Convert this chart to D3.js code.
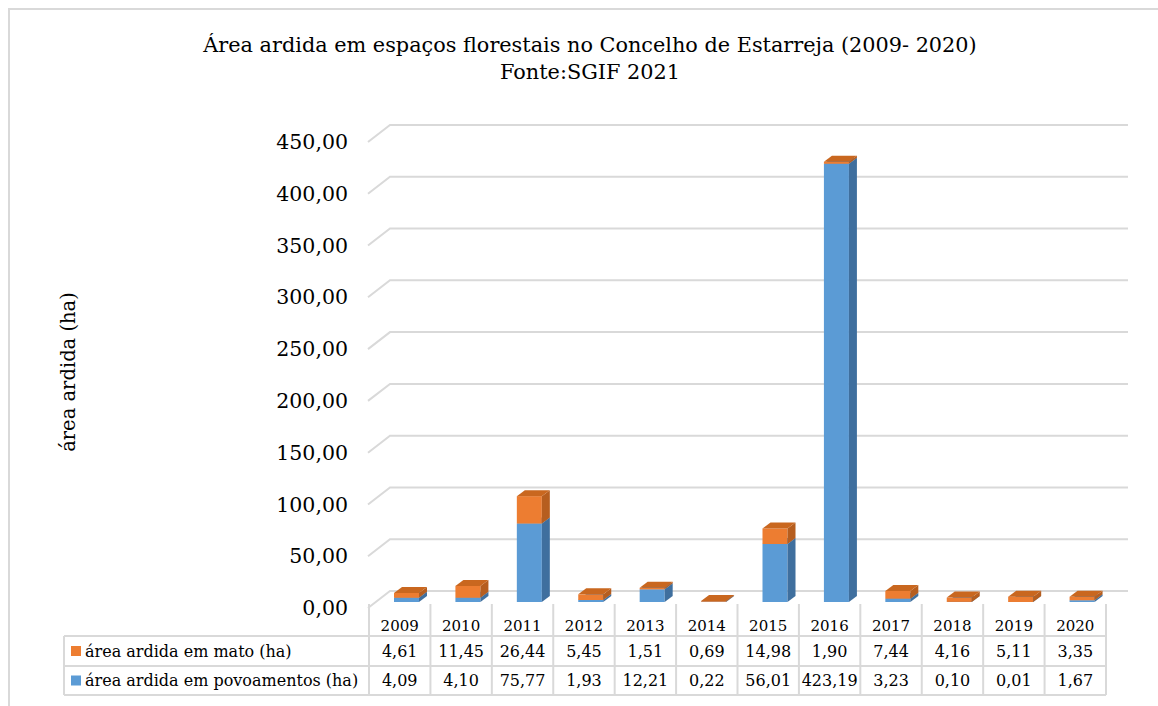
<!DOCTYPE html>
<html>
<head>
<meta charset="utf-8">
<script src="https://cdn.jsdelivr.net/npm/d3@7"></script>
<style>
  body { margin: 0; background: #fff; }
  text { font-family: "DejaVu Serif", "Liberation Serif", serif; fill: #000; }
</style>
</head>
<body>
<div id="container"></div>
<script>
// dados
var anos = ["2009","2010","2011","2012","2013","2014","2015","2016","2017","2018","2019","2020"];
var mato = [4.61, 11.45, 26.44, 5.45, 1.51, 0.69, 14.98, 1.90, 7.44, 4.16, 5.11, 3.35];
var povoamentos = [4.09, 4.10, 75.77, 1.93, 12.21, 0.22, 56.01, 423.19, 3.23, 0.10, 0.01, 1.67];
var nomesSeries = ["área ardida em mato (ha)", "área ardida em povoamentos (ha)"];
var titulo = ["Área ardida em espaços florestais no Concelho de Estarreja (2009- 2020)", "Fonte:SGIF 2021"];
var tituloEixo = "área ardida (ha)";

var w = 1158, h = 706;
var grid = "#d9d9d9";

var pt = d3.formatLocale({decimal: ",", thousands: ".", grouping: [3], currency: ["", "€"]});
var fmt = pt.format(".2f");

var svg = d3.select("#container").append("svg")
    .attr("width", w)
    .attr("height", h);

// moldura
svg.append("path")
    .attr("d", "M9," + h + "V9H" + w)
    .attr("fill", "none")
    .attr("stroke", grid)
    .attr("stroke-width", 2);

// titulo
svg.selectAll(".titulo")
    .data(titulo)
    .enter()
    .append("text")
    .attr("class", "titulo")
    .attr("x", 590)
    .attr("y", function(d, i) { return 52 + i * 27; })
    .attr("text-anchor", "middle")
    .style("font-size", "20.8px")
    .text(function(d) { return d; });

// escalas
var x = d3.scaleBand().domain(anos).range([369, 1106]).padding(0);
var yBack = d3.scaleLinear().domain([0, 450]).range([591, 125]);
var yFront = d3.scaleLinear().domain([0, 450]).range([602, 136]);
var yLabel = d3.scaleLinear().domain([0, 450]).range([608, 142]);

var depth = {dx: 8, dy: 6};
var barOff = 25, barW = 25;

// grelha
var ticks = yBack.ticks(9);
var gGrid = svg.append("g").attr("class", "grid");
gGrid.selectAll("path")
    .data(ticks)
    .enter()
    .append("path")
    .attr("d", function(d) {
        return "M368," + yLabel(d) + "L390," + yBack(d) + "H1128";
    })
    .attr("fill", "none")
    .attr("stroke", grid)
    .attr("stroke-width", 2);

// eixo y
var eixo = svg.append("g")
    .attr("transform", "translate(348,0)")
    .call(d3.axisLeft(yLabel).tickValues(ticks).tickSize(0).tickPadding(0).tickFormat(fmt));
eixo.select(".domain").remove();
eixo.selectAll("text")
    .style("font-family", "'DejaVu Serif', serif")
    .style("font-size", "20.5px")
    .attr("fill", "#000");

svg.append("text")
    .attr("transform", "translate(68,372) rotate(-90)")
    .attr("text-anchor", "middle")
    .attr("dy", "0.35em")
    .style("font-size", "19.5px")
    .text(tituloEixo);

// barras empilhadas 3D
var stackData = anos.map(function(a, i) {
    return {ano: a, povoamentos: povoamentos[i], mato: mato[i]};
});
var series = d3.stack().keys(["povoamentos", "mato"])(stackData);
var cores = {
    povoamentos: {front: "#5b9bd5", side: "#3f6f9e", top: "#4e87bd"},
    mato: {front: "#ed7d31", side: "#b65e1f", top: "#c9671f"}
};

var gBars = svg.append("g").attr("class", "bars");
anos.forEach(function(a, i) {
    series.forEach(function(s) {
        var seg = s[i];
        var c = cores[s.key];
        var x0 = x(a) + barOff, x1 = x0 + barW;
        var yb = yFront(seg[0]), yt = yFront(seg[1]);
        var g = gBars.append("g");
        g.append("rect")
            .attr("x", x0).attr("y", yt)
            .attr("width", barW).attr("height", Math.max(0, yb - yt))
            .attr("fill", c.front);
        g.append("path")
            .attr("d", "M" + x1 + "," + yt + "L" + (x1 + depth.dx) + "," + (yt - depth.dy) +
                "L" + (x1 + depth.dx) + "," + (yb - depth.dy) + "L" + x1 + "," + yb + "Z")
            .attr("fill", c.side);
        g.append("path")
            .attr("d", "M" + x0 + "," + yt + "L" + x1 + "," + yt + "L" + (x1 + depth.dx) + "," + (yt - depth.dy) +
                "L" + (x0 + depth.dx) + "," + (yt - depth.dy) + "Z")
            .attr("fill", c.top);
    });
});

// tabela de dados
var tLeft = 64, tRight = 1106;
var rows = [636, 666, 695];
var gTab = svg.append("g").attr("class", "tabela")
    .attr("stroke", grid).attr("stroke-width", 2).attr("fill", "none");
rows.forEach(function(r) {
    gTab.append("line").attr("x1", tLeft).attr("x2", tRight).attr("y1", r).attr("y2", r);
});
gTab.append("line").attr("x1", tLeft).attr("x2", tLeft).attr("y1", rows[0]).attr("y2", rows[2]);
anos.concat(["fim"]).forEach(function(a, i) {
    var xx = i < anos.length ? x(a) : tRight;
    gTab.append("line").attr("x1", xx).attr("x2", xx).attr("y1", 604).attr("y2", rows[2]);
});

svg.selectAll(".ano")
    .data(anos)
    .enter()
    .append("text")
    .attr("class", "ano")
    .attr("x", function(d) { return x(d) + x.bandwidth() / 2; })
    .attr("y", 626)
    .attr("dy", "0.35em")
    .attr("text-anchor", "middle")
    .style("font-size", "15px")
    .text(function(d) { return d; });

var valores = [mato, povoamentos];
var coresLegenda = ["#ed7d31", "#5b9bd5"];
valores.forEach(function(vals, r) {
    var yc = (rows[r] + rows[r + 1]) / 2;
    svg.append("rect")
        .attr("x", 71).attr("y", yc - 5)
        .attr("width", 10).attr("height", 10)
        .attr("fill", coresLegenda[r]);
    svg.append("text")
        .attr("x", 85).attr("y", yc)
        .attr("dy", "0.35em")
        .style("font-size", "16px")
        .text(nomesSeries[r]);
    svg.selectAll(".v" + r)
        .data(vals)
        .enter()
        .append("text")
        .attr("class", "v" + r)
        .attr("x", function(d, i) { return x(anos[i]) + x.bandwidth() / 2; })
        .attr("y", yc)
        .attr("dy", "0.35em")
        .attr("text-anchor", "middle")
        .style("font-size", "16px")
        .text(function(d) { return fmt(d); });
});
</script>
</body>
</html>
